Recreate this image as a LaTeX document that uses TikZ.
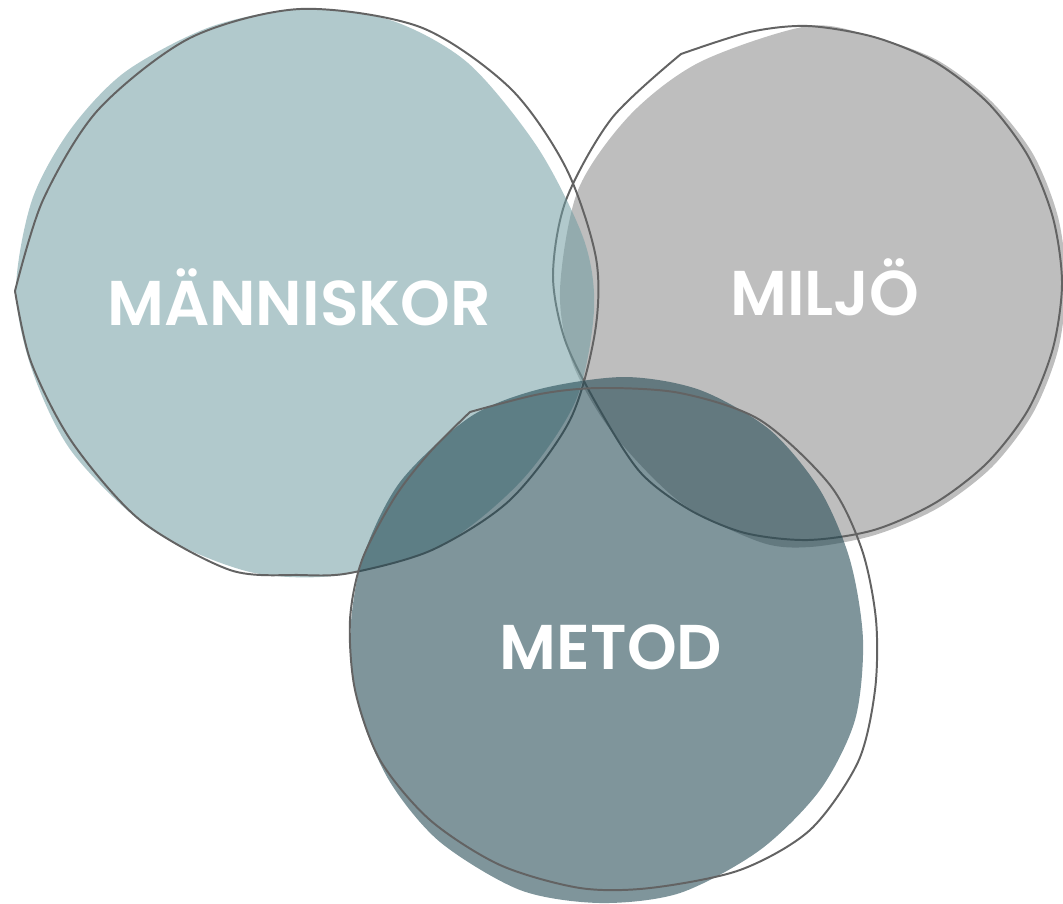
\documentclass[tikz,border=0pt]{standalone}
\usepackage{fontspec}
\setmainfont{Poppins}[BoldFont={Poppins SemiBold}]
\usepackage{tikz}
\definecolor{tealfill}{HTML}{719DA2}
\definecolor{grayfill}{HTML}{BEBEBE}
\definecolor{darkfill}{HTML}{224853}
\definecolor{rimgray}{HTML}{636363}

\begin{document}
\begin{tikzpicture}[x=0.025cm, y=-0.025cm,
        rim/.style={draw=rimgray, line width=1.4pt, line join=round},
        blobtext/.style={text=white, anchor=base, inner sep=0pt,
            font=\bfseries\fontsize{45}{45}\selectfont}]
        \useasboundingbox (0, 0) rectangle (1063, 903);
        % Miljo
        \fill [grayfill] plot [smooth cycle] coordinates {(560, 290) (578, 190) (630, 115) (700, 62) (808, 26) (874, 37) (937, 60) (991, 101) (1033, 154) (1058, 217) (1066, 283) (1058, 350) (1033, 413) (992, 467) (938, 508) (875, 535) (810, 547) (760, 542) (680, 502) (612, 432) (572, 362)};
        \draw [rim] plot [smooth] coordinates {(681, 54) (750, 32) (808, 26) (874, 37) (935, 62) (988, 103) (1028, 156) (1053, 218) (1062, 283) (1053, 348) (1028, 410) (987, 463) (935, 503) (874, 530) (808, 540) (745, 533) (690, 510) (640, 472) (597, 405) (565, 340) (553, 275) (566, 200) (612, 118) (681, 54)};
        % Manniskor
        \fill [tealfill, fill opacity=0.55] plot [smooth cycle] coordinates {(16, 290) (32, 200) (70, 130) (125, 72) (210, 27) (300, 9) (390, 20) (468, 63) (538, 148) (584, 240) (594, 310) (576, 400) (522, 480) (442, 545) (342, 575) (250, 572) (152, 530) (72, 452) (32, 370)};
        \draw [rim] plot [smooth] coordinates {(15, 291) (43, 200) (98, 110) (190, 38) (300, 9) (420, 27) (510, 88) (566, 168) (596, 258) (595, 332) (570, 420) (510, 500) (432, 550) (350, 573) (300, 575) (230, 570) (140, 520) (72, 442) (31, 362) (15, 291)};
        % Metod
        \fill [darkfill, fill opacity=0.58] plot [smooth cycle] coordinates {(350, 640) (362, 560) (400, 482) (470, 417) (540, 389) (625, 377) (700, 390) (770, 430) (820, 490) (850, 560) (863, 640) (855, 720) (820, 790) (760, 850) (680, 893) (600, 903) (520, 890) (440, 842) (390, 782) (360, 712)};
        \draw [rim] plot [smooth] coordinates {(470, 412) (540, 394) (600, 388) (680, 393) (760, 420) (830, 485) (862, 550) (876, 620) (875, 690) (858, 762) (810, 830) (740, 870) (650, 888) (580, 888) (500, 865) (430, 820) (380, 760) (355, 690) (350, 620) (362, 560) (395, 497) (430, 452) (470, 412)};
        % Labels
        \node [blobtext] (manniskor) at (299, 325) {MÄNNISKOR};
        \node [blobtext] (miljo) at (825, 315) {MILJÖ};
        \node [blobtext] (metod) at (611, 669) {METOD};
    \end{tikzpicture}
\end{document}
